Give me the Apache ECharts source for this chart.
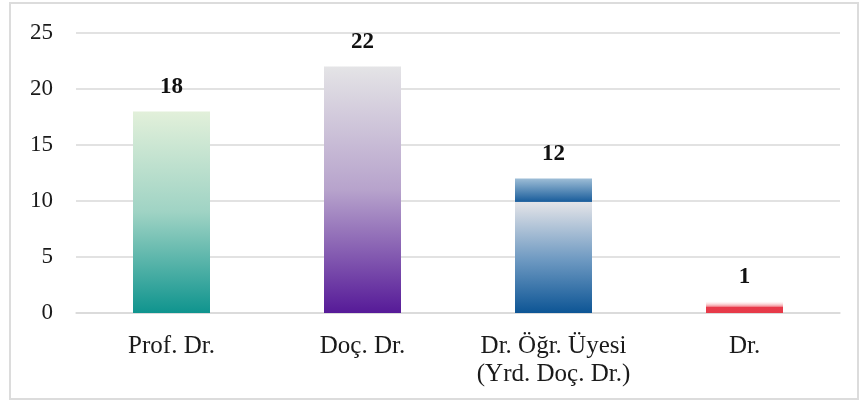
<!DOCTYPE html>
<html>
<head>
    <meta charset="utf-8" />
    <script src="https://cdn.jsdelivr.net/npm/echarts@6.0.0/dist/echarts.min.js"></script>
    <style>
        body { margin: 0; background: #fff; }
        #frame { position: absolute; left: 9px; top: 2px; width: 846px; height: 394px; border: 2px solid #dcdcdc; }
        #chart { position: absolute; left: 0; top: 0; width: 867px; height: 408px; }
    </style>
</head>
<body>
    <div id="frame"></div>
    <div id="chart"></div>
    <script>
        var categories = ['Prof. Dr.', 'Doç. Dr.', 'Dr. Öğr. Üyesi\n(Yrd. Doç. Dr.)', 'Dr.'];
        var counts = [18, 22, 12, 1];
        var yTicks = { min: 0, max: 25, interval: 5 };

        function grad(stops) {
            return new echarts.graphic.LinearGradient(0, 0, 0, 1, stops.map(function (s) {
                return { offset: s[0], color: s[1] };
            }));
        }
        var barColors = [
            grad([[0, '#e2f0da'], [0.5, '#9fd3c4'], [1, '#0f948e']]),
            grad([[0, '#e4e4e6'], [0.5, '#b7a3cc'], [1, '#561a98']]),
            grad([[0, '#9dbdd6'], [0.17, '#1b5e9c'], [0.175, '#e4e4e8'], [0.6, '#6f9ac2'], [1, '#0d5595']]),
            grad([[0, 'rgba(255,230,230,0.2)'], [0.4, 'rgba(240,120,130,0.8)'], [0.5, '#e8394a'], [1, '#e63a48']])
        ];

        var chart = echarts.init(document.getElementById('chart'));
        chart.setOption({
            animation: false,
            grid: { left: 76, right: 27, top: 33, bottom: 95 },
            xAxis: {
                type: 'category',
                data: categories,
                axisLine: { lineStyle: { color: '#d9d9d9', width: 1.5 } },
                axisTick: { show: false },
                axisLabel: {
                    interval: 0,
                    hideOverlap: false,
                    margin: 19,
                    color: '#1a1a1a',
                    fontFamily: 'Liberation Serif',
                    fontSize: 25,
                    lineHeight: 28
                }
            },
            yAxis: {
                type: 'value',
                min: yTicks.min,
                max: yTicks.max,
                interval: yTicks.interval,
                axisLine: { show: false },
                axisTick: { show: false },
                splitLine: { lineStyle: { color: '#d9d9d9', width: 1.5 } },
                axisLabel: {
                    margin: 23,
                    color: '#1a1a1a',
                    fontFamily: 'Liberation Serif',
                    fontSize: 23
                }
            },
            series: [{
                type: 'bar',
                barWidth: 77,
                data: counts.map(function (v, i) {
                    return { value: v, itemStyle: { color: barColors[i] } };
                }),
                label: {
                    show: true,
                    position: 'top',
                    distance: 13,
                    color: '#111',
                    fontFamily: 'Liberation Serif',
                    fontWeight: 'bold',
                    fontSize: 23
                }
            }]
        });
    </script>
</body>
</html>
